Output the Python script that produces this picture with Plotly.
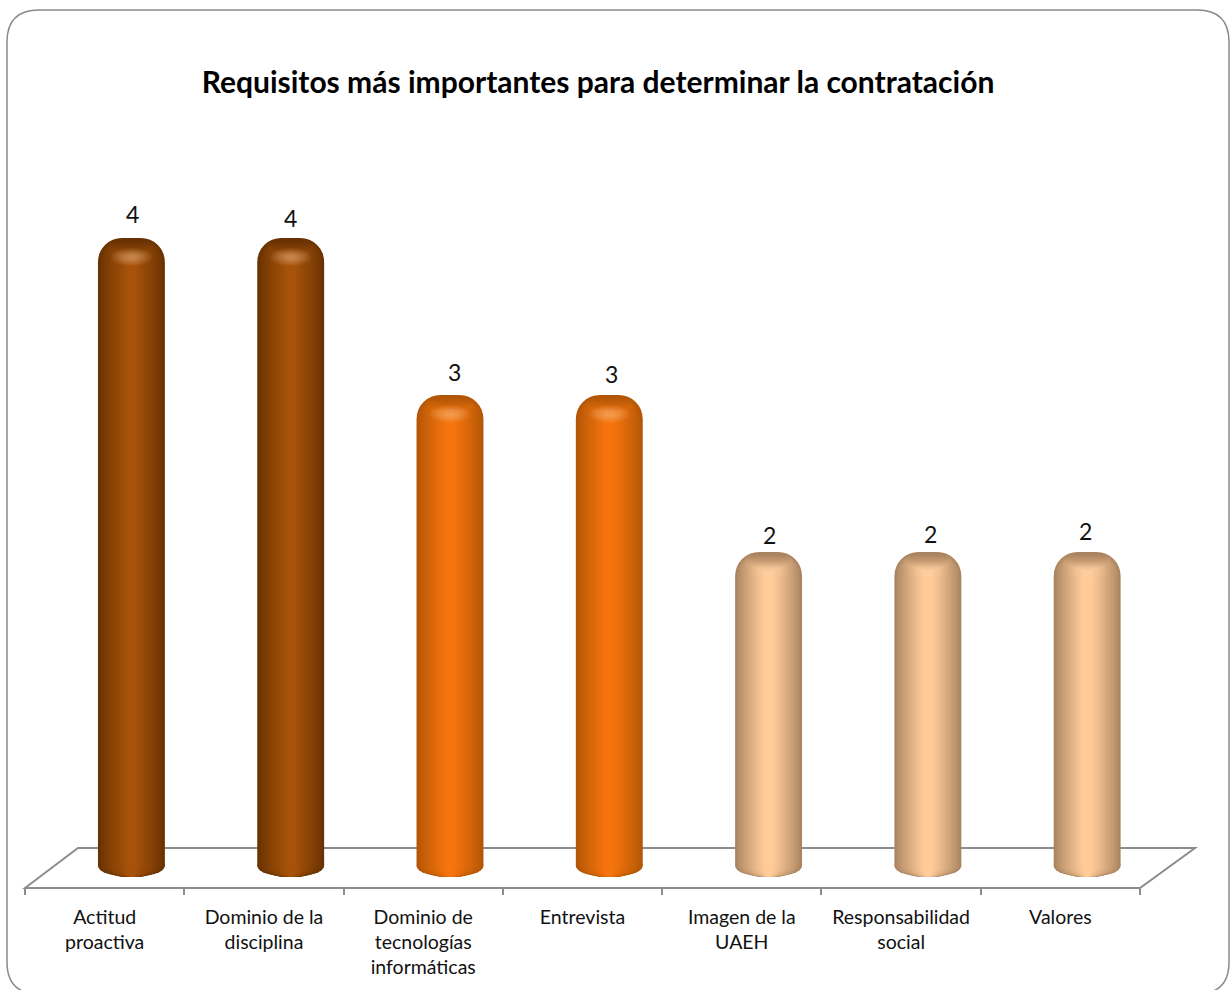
import plotly.graph_objects as go

categories = ["Actitud<br>proactiva", "Dominio de la<br>disciplina", "Dominio de<br>tecnologías<br>informáticas",
              "Entrevista", "Imagen de la<br>UAEH", "Responsabilidad<br>social", "Valores"]
values = [4, 4, 3, 3, 2, 2, 2]
title = "Requisitos más importantes para determinar la contratación"

edge_colors = {4: (104, 50, 2), 3: (178, 86, 6), 2: (170, 132, 96)}
center_colors = {4: (166, 82, 10), 3: (245, 116, 13), 2: (255, 204, 153)}
label_nudge_x = [1, 0, 5, 2, 1, 3, -2]
label_nudge_y = [4, 0, 3, 1, -3, -2, 1]

W, H = 1231, 990
L, R, T, B = 25, 1195, 160, 888
GREY = "#8c8c8c"
LEVELS = 18
BAR_W = 0.42
SHIFT = 0.168
UNIT_PX = 157.0


def px(x):
    return (x - L) / (R - L)


def py(y):
    return (B - y) / (B - T)


def mix(a, b, t):
    return "rgb(%d,%d,%d)" % tuple(round(a[i] + (b[i] - a[i]) * t) for i in range(3))


def level_color(v, t):
    return mix(edge_colors[v], center_colors[v], min(1.0, t ** 0.85 * 1.1))


shapes = []
# outer rounded frame
x0, x1, y0, y1, r = 7, 1229, 10, 994, 32
frame = (f"M {px(x0)} {py(y0 + r)} Q {px(x0)} {py(y0)} {px(x0 + r)} {py(y0)} "
         f"L {px(x1 - r)} {py(y0)} Q {px(x1)} {py(y0)} {px(x1)} {py(y0 + r)} "
         f"L {px(x1)} {py(y1 - r)} Q {px(x1)} {py(y1)} {px(x1 - r)} {py(y1)} "
         f"L {px(x0 + r)} {py(y1)} Q {px(x0)} {py(y1)} {px(x0)} {py(y1 - r)} Z")
shapes.append(dict(type="path", path=frame, xref="paper", yref="paper", layer="below",
                   line=dict(color="#8a8a8a", width=1.5), fillcolor="white"))
# floor
floor = (f"M {px(25)} {py(888)} L {px(78)} {py(848)} L {px(1195)} {py(848)} L {px(1140)} {py(888)} Z")
shapes.append(dict(type="path", path=floor, xref="paper", yref="paper", layer="below",
                   line=dict(color=GREY, width=2), fillcolor="white"))

fig = go.Figure()
for k in range(LEVELS):
    t = k / (LEVELS - 1)
    w = BAR_W * (1 - t) + 0.02 * t
    drop = 0.125 * t ** 0.6
    fig.add_trace(go.Bar(
        x=categories, y=[v - drop for v in values],
        width=w, offset=SHIFT - w / 2,
        marker=dict(color=[level_color(v, t) for v in values], line=dict(width=0),
                    cornerradius=max(2, 24 * (1 - t))),
        cliponaxis=False, hoverinfo="skip", showlegend=False,
    ))
    # rounded foot of the cylinder
    for i, v in enumerate(values):
        cx = i + SHIFT
        shapes.append(dict(type="circle", xref="x", yref="y", layer="below",
                           x0=cx - w / 2, x1=cx + w / 2, y0=-11 / UNIT_PX, y1=11 / UNIT_PX,
                           fillcolor=level_color(v, t), line=dict(width=0)))

# soft highlight beneath the cap, and data labels
annotations = []
for i, v in enumerate(values):
    cx = i + SHIFT
    for j in range(10):
        hw = BAR_W * (0.62 - 0.056 * j)
        hh = (18 - 1.6 * j) / UNIT_PX
        yc = v - 19 / UNIT_PX
        shapes.append(dict(type="circle", xref="x", yref="y", layer="above",
                           x0=cx - hw / 2, x1=cx + hw / 2, y0=yc - hh / 2, y1=yc + hh / 2,
                           fillcolor="rgba(255,225,170,0.05)", line=dict(width=0)))
    annotations.append(dict(x=cx, y=v, xref="x", yref="y", text=str(v), showarrow=False,
                            xanchor="center", yanchor="bottom",
                            xshift=label_nudge_x[i], yshift=4 + label_nudge_y[i],
                            font=dict(family="Lato", size=23, color="#111111")))

fig.update_layout(
    width=W, height=H, autosize=False,
    margin=dict(l=L, r=W - R, t=T, b=H - B, pad=0),
    paper_bgcolor="white", plot_bgcolor="rgba(0,0,0,0)",
    barmode="overlay", shapes=shapes, annotations=annotations, showlegend=False,
    font=dict(family="Lato", color="#111111"),
    title=dict(text=f"<b>{title}</b>", font=dict(family="Lato", size=30, color="#000000"),
               x=px(598), xref="paper", xanchor="center", y=1 - 82 / H, yref="container", yanchor="middle"),
    xaxis=dict(type="category", categoryorder="array", categoryarray=categories,
               range=[-0.5, 6.845], tickson="boundaries", ticks="outside", ticklen=6,
               tickwidth=1.5, tickcolor=GREY, showline=False, showgrid=False, zeroline=False,
               tickangle=0, tickfont=dict(family="Lato", size=19.5, color="#111111"), ticklabelstandoff=15),
    yaxis=dict(range=[-22 / UNIT_PX, (B - 22 - T) / UNIT_PX], visible=False, showgrid=False, zeroline=False),
)

fig.write_html("out.html", config={"displayModeBar": False}, post_script="document.body.style.margin='0';")
